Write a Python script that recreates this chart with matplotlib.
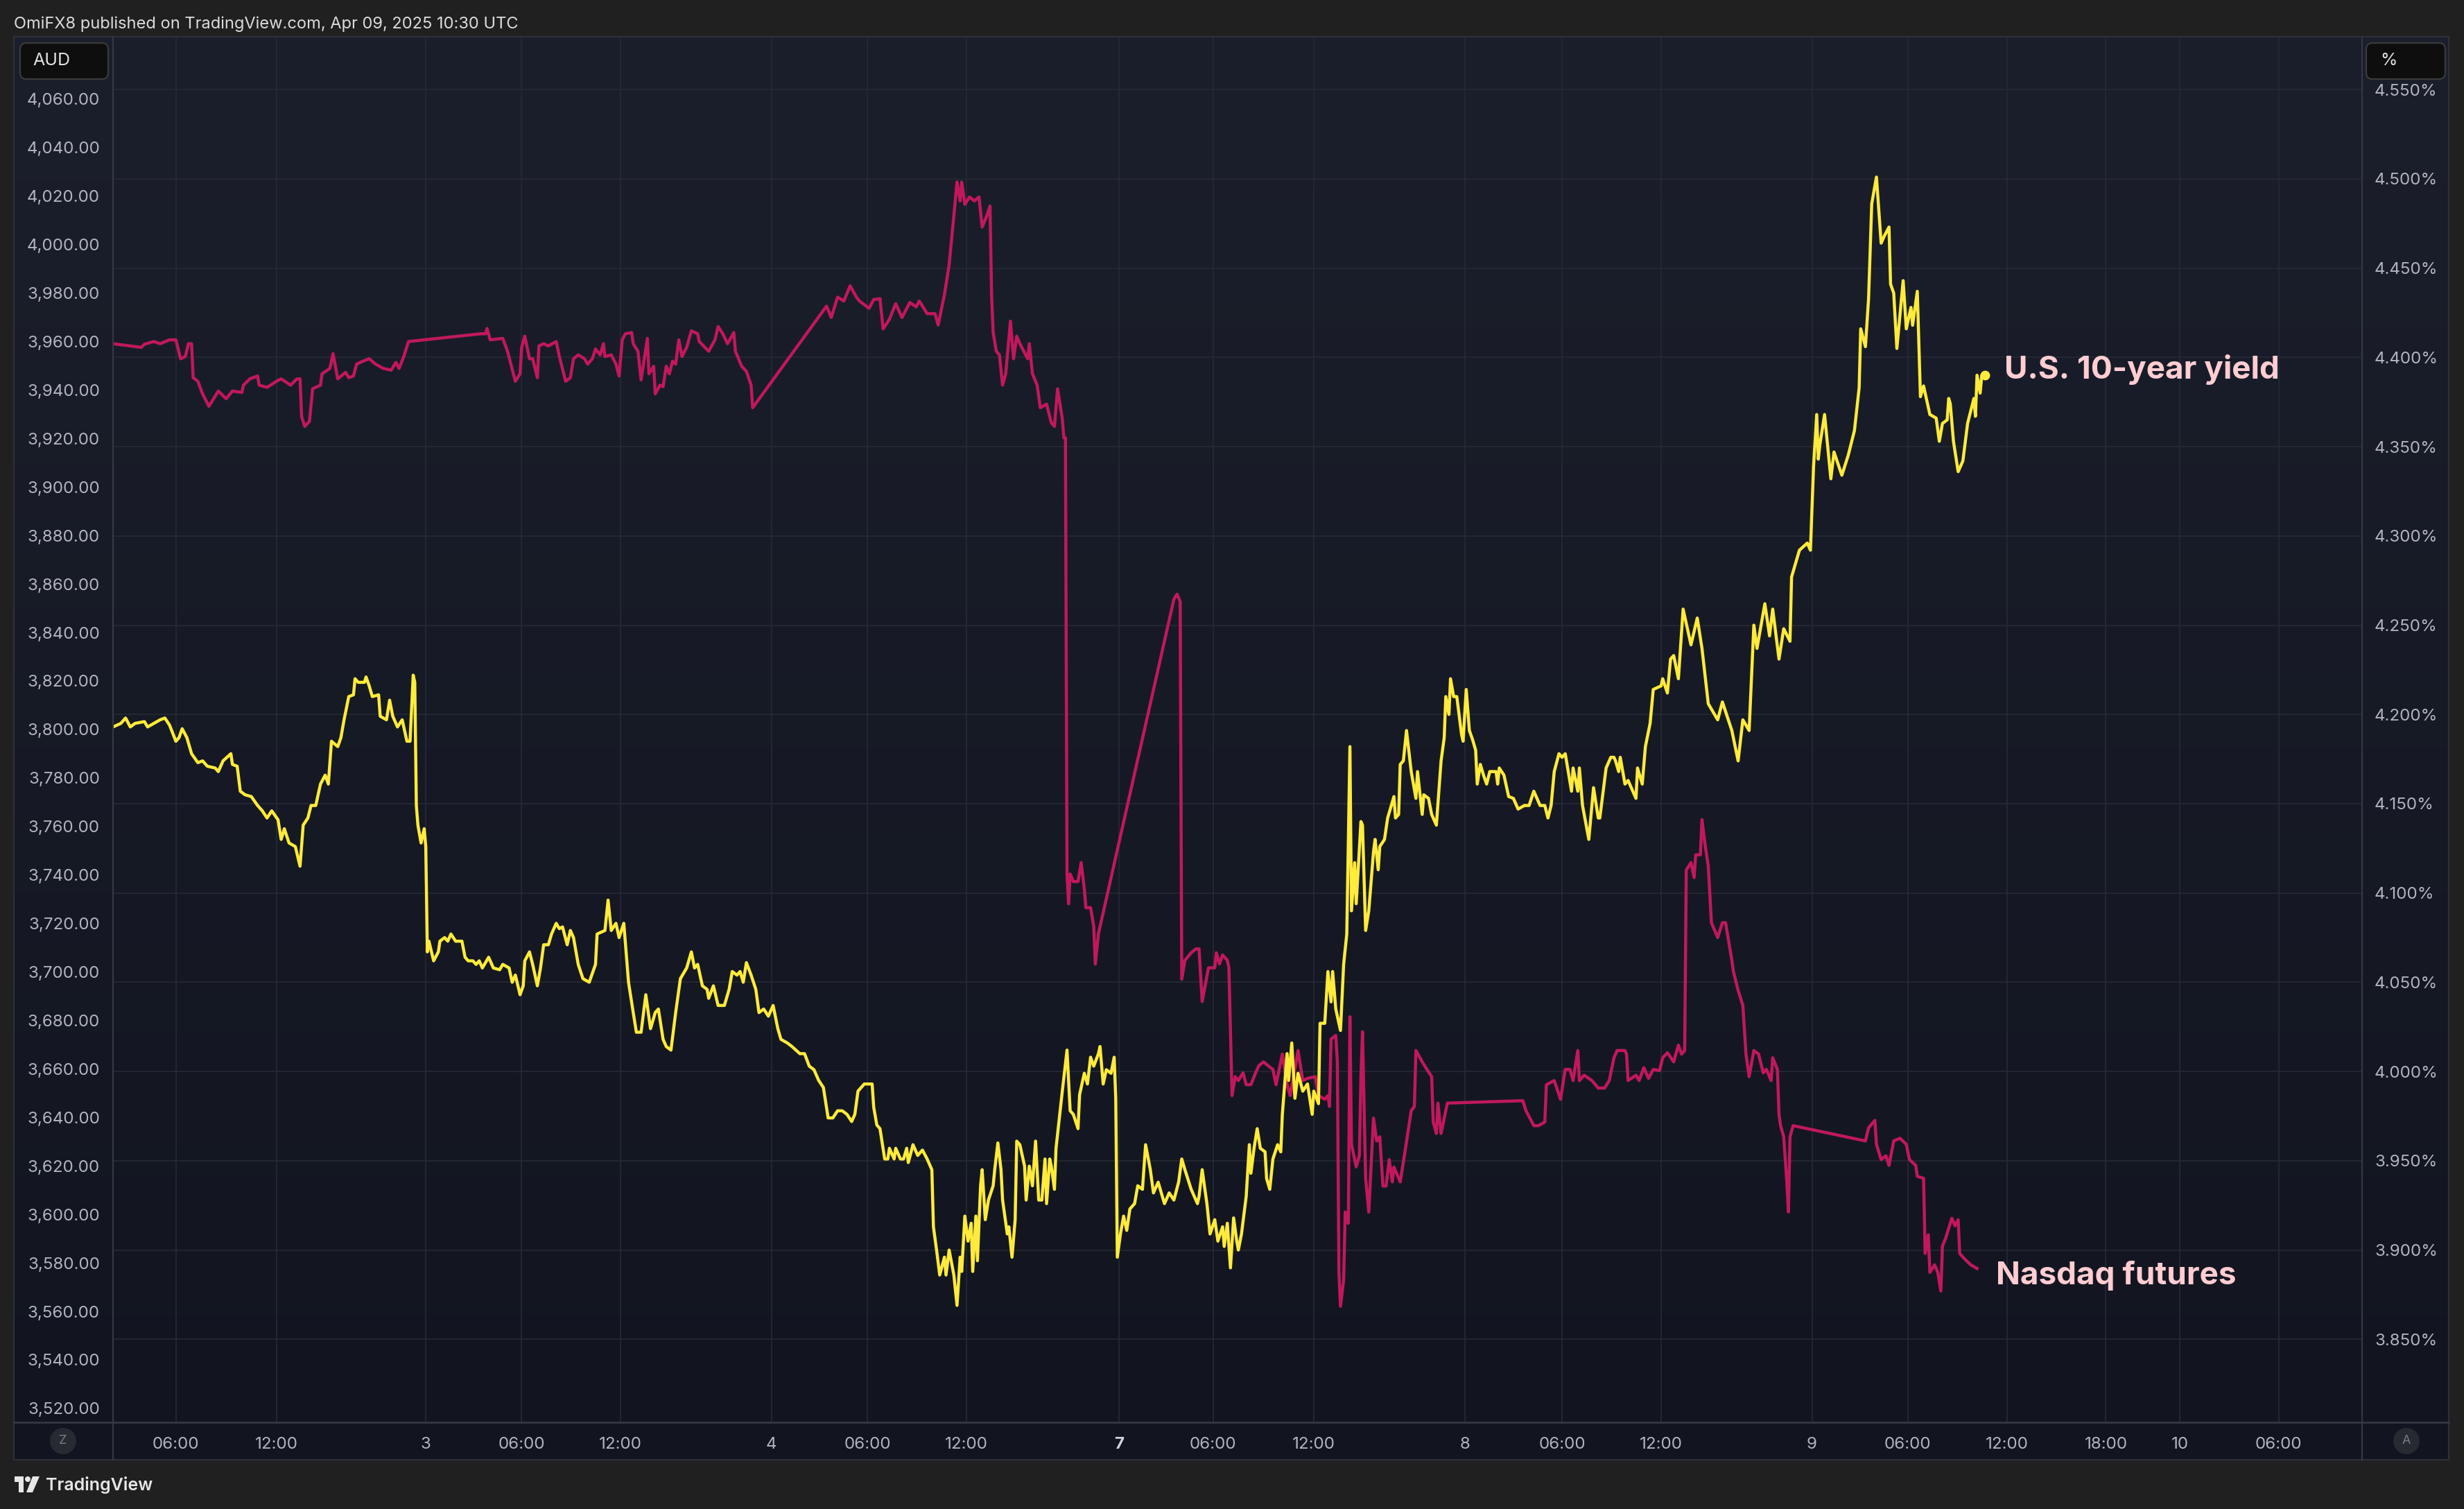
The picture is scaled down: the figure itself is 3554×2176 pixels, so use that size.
import numpy as np
import matplotlib.pyplot as plt
from matplotlib.colors import LinearSegmentedColormap
from matplotlib.patches import FancyBboxPatch, Circle, Rectangle, Polygon
from matplotlib.lines import Line2D
from matplotlib.transforms import IdentityTransform

# x = bar index on the TradingView time scale (session time, gaps removed)
time_tick_bars = [40, 104, 199, 260, 323, 419, 480, 543, 640, 700,
                  764, 860, 922, 985, 1081, 1142, 1205, 1268, 1315, 1378]
time_tick_labels = ["06:00", "12:00", "3", "06:00", "12:00", "4", "06:00", "12:00", "7", "06:00",
                    "12:00", "8", "06:00", "12:00", "9", "06:00", "12:00", "18:00", "10", "06:00"]

nasdaq_ticks = [3520, 3540, 3560, 3580, 3600, 3620, 3640, 3660, 3680, 3700, 3720, 3740, 3760, 3780,
                3800, 3820, 3840, 3860, 3880, 3900, 3920, 3940, 3960, 3980, 4000, 4020, 4040, 4060]
yield_ticks = [3.85, 3.90, 3.95, 4.00, 4.05, 4.10, 4.15, 4.20, 4.25, 4.30, 4.35, 4.40, 4.45, 4.50, 4.55]

# U.S. 10-year yield, %
yield_bar = [
    0, 5, 8, 11, 14, 20, 22, 26, 30, 33,
    36, 40, 42, 44, 47, 50, 54, 57, 60, 65,
    67, 70, 75, 76, 79, 81, 84, 88, 92, 95,
    98, 101, 105, 107, 109, 112, 116, 119, 121, 124,
    126, 129, 132, 135, 137, 139, 143, 145, 147, 150,
    153, 154, 156, 160, 161, 163, 165, 169, 170, 174,
    176, 178, 181, 184, 187, 189, 191, 192, 193, 194,
    196, 198, 199, 200, 201, 204, 207, 208, 211, 213,
    215, 218, 222, 224, 226, 229, 231, 233, 235, 239,
    242, 246, 248, 252, 254, 256, 259, 261, 262, 265,
    267, 270, 272, 274, 277, 279, 282, 284, 286, 289,
    291, 293, 296, 299, 303, 307, 308, 313, 315, 317,
    320, 322, 325, 328, 331, 333, 336, 339, 342, 345,
    347, 350, 352, 355, 358, 361, 365, 368, 370, 372,
    375, 378, 379, 382, 385, 389, 392, 394, 397, 399,
    401, 403, 406, 409, 411, 414, 417, 420, 423, 425,
    429, 432, 437, 440, 443, 446, 449, 452, 455, 458,
    461, 464, 467, 470, 472, 474, 478, 483, 484, 486,
    488, 491, 493, 494, 497, 498, 501, 503, 505, 506,
    509, 512, 515, 518, 521, 522, 524, 526, 529, 530,
    532, 535, 537, 539, 540, 542, 544, 546, 547, 549,
    550, 552, 553, 555, 557, 560, 561, 563, 565, 566,
    569, 570, 572, 574, 575, 577, 580, 581, 583, 585,
    587, 589, 591, 593, 594, 596, 597, 599, 600, 604,
    607, 609, 611, 614, 615, 618, 620, 622, 624, 627,
    628, 630, 632, 635, 637, 638, 639, 641, 643, 645,
    647, 650, 652, 655, 657, 660, 662, 665, 667, 669,
    672, 675, 678, 680, 682, 686, 690, 691, 693, 696,
    698, 701, 703, 706, 707, 709, 711, 713, 715, 716,
    718, 721, 723, 724, 726, 728, 730, 733, 734, 736,
    738, 741, 743, 744, 747, 748, 750, 752, 754, 757,
    760, 763, 764, 767, 768, 771, 773, 775, 776, 778,
    781, 783, 785, 787, 788, 790, 791, 794, 795, 797,
    799, 802, 803, 805, 806, 809, 811, 815, 816, 818,
    819, 821, 823, 826, 829, 830, 833, 834, 837, 839,
    842, 845, 847, 848, 850, 851, 853, 855, 858, 859,
    861, 863, 865, 867, 868, 870, 872, 874, 876, 880,
    881, 882, 885, 888, 891, 894, 898, 901, 904, 908,
    911, 913, 915, 917, 920, 922, 924, 928, 929, 932,
    933, 935, 939, 942, 945, 946, 950, 953, 955, 956,
    958, 959, 962, 964, 967, 969, 970, 973, 975, 978,
    980, 985, 986, 989, 991, 993, 996, 999, 1004, 1008,
    1011, 1015, 1021, 1024, 1030, 1034, 1037, 1041, 1044, 1046,
    1051, 1054, 1056, 1060, 1063, 1067, 1068, 1073, 1078, 1080,
    1082, 1084, 1085, 1086, 1089, 1093, 1095, 1100, 1104, 1108,
    1111, 1112, 1115, 1117, 1119, 1122, 1125, 1127, 1130, 1131,
    1133, 1135, 1139, 1141, 1144, 1145, 1148, 1150, 1152, 1156,
    1160, 1162, 1164, 1167, 1168, 1169, 1171, 1174, 1177, 1180,
    1184, 1185, 1186, 1188, 1189, 1191]
yield_pct = [
    4.193, 4.195, 4.198, 4.193, 4.195, 4.196, 4.193, 4.195, 4.197, 4.198,
    4.194, 4.185, 4.187, 4.192, 4.187, 4.178, 4.173, 4.174, 4.171, 4.170,
    4.168, 4.174, 4.178, 4.172, 4.171, 4.157, 4.155, 4.154, 4.149, 4.146,
    4.142, 4.146, 4.141, 4.130, 4.136, 4.128, 4.126, 4.115, 4.138, 4.142,
    4.149, 4.149, 4.161, 4.166, 4.161, 4.185, 4.182, 4.187, 4.197, 4.210,
    4.211, 4.220, 4.218, 4.218, 4.221, 4.216, 4.210, 4.211, 4.199, 4.197,
    4.208, 4.199, 4.193, 4.197, 4.185, 4.185, 4.222, 4.218, 4.149, 4.138,
    4.128, 4.136, 4.126, 4.067, 4.073, 4.062, 4.067, 4.073, 4.075, 4.073,
    4.077, 4.073, 4.073, 4.064, 4.062, 4.062, 4.060, 4.062, 4.058, 4.064,
    4.058, 4.057, 4.060, 4.058, 4.050, 4.054, 4.043, 4.048, 4.062, 4.067,
    4.060, 4.048, 4.058, 4.071, 4.071, 4.077, 4.083, 4.080, 4.081, 4.071,
    4.079, 4.075, 4.060, 4.052, 4.050, 4.060, 4.077, 4.079, 4.096, 4.079,
    4.083, 4.075, 4.083, 4.050, 4.033, 4.022, 4.022, 4.043, 4.024, 4.033,
    4.035, 4.018, 4.014, 4.012, 4.033, 4.052, 4.058, 4.067, 4.058, 4.060,
    4.048, 4.046, 4.041, 4.048, 4.037, 4.037, 4.046, 4.056, 4.054, 4.056,
    4.050, 4.061, 4.054, 4.046, 4.033, 4.035, 4.031, 4.037, 4.024, 4.018,
    4.016, 4.014, 4.010, 4.010, 4.003, 4.001, 3.995, 3.991, 3.974, 3.974,
    3.978, 3.978, 3.976, 3.972, 3.976, 3.989, 3.993, 3.993, 3.980, 3.970,
    3.968, 3.951, 3.951, 3.957, 3.951, 3.957, 3.951, 3.951, 3.957, 3.949,
    3.959, 3.953, 3.956, 3.951, 3.945, 3.913, 3.900, 3.886, 3.896, 3.886,
    3.900, 3.886, 3.869, 3.896, 3.888, 3.919, 3.905, 3.915, 3.888, 3.919,
    3.894, 3.936, 3.945, 3.917, 3.928, 3.936, 3.945, 3.960, 3.945, 3.928,
    3.909, 3.913, 3.896, 3.917, 3.961, 3.959, 3.947, 3.928, 3.947, 3.936,
    3.961, 3.928, 3.928, 3.951, 3.926, 3.951, 3.947, 3.934, 3.957, 3.989,
    4.012, 3.978, 3.976, 3.968, 3.987, 3.999, 3.993, 4.008, 4.003, 4.010,
    4.014, 3.993, 4.001, 3.999, 4.008, 3.985, 3.896, 3.909, 3.919, 3.911,
    3.923, 3.926, 3.936, 3.934, 3.959, 3.945, 3.932, 3.938, 3.932, 3.926,
    3.932, 3.928, 3.938, 3.951, 3.945, 3.934, 3.926, 3.930, 3.945, 3.926,
    3.909, 3.917, 3.905, 3.913, 3.902, 3.915, 3.890, 3.918, 3.905, 3.900,
    3.909, 3.930, 3.959, 3.943, 3.957, 3.968, 3.957, 3.955, 3.940, 3.934,
    3.951, 3.959, 3.955, 3.976, 4.010, 3.995, 4.016, 3.985, 3.999, 3.989,
    3.993, 3.976, 3.989, 3.982, 4.027, 4.027, 4.056, 4.039, 4.056, 4.035,
    4.023, 4.060, 4.077, 4.182, 4.090, 4.117, 4.094, 4.140, 4.138, 4.079,
    4.090, 4.123, 4.130, 4.113, 4.126, 4.130, 4.142, 4.154, 4.142, 4.144,
    4.172, 4.174, 4.191, 4.168, 4.153, 4.168, 4.144, 4.155, 4.153, 4.144,
    4.138, 4.174, 4.187, 4.210, 4.200, 4.220, 4.210, 4.210, 4.189, 4.185,
    4.214, 4.191, 4.186, 4.180, 4.161, 4.172, 4.166, 4.161, 4.168, 4.168,
    4.161, 4.170, 4.166, 4.154, 4.153, 4.147, 4.149, 4.149, 4.157, 4.149,
    4.149, 4.142, 4.149, 4.168, 4.178, 4.176, 4.178, 4.157, 4.170, 4.157,
    4.170, 4.149, 4.130, 4.159, 4.142, 4.142, 4.170, 4.176, 4.176, 4.174,
    4.168, 4.176, 4.161, 4.163, 4.157, 4.153, 4.170, 4.161, 4.182, 4.195,
    4.214, 4.216, 4.220, 4.212, 4.231, 4.233, 4.220, 4.259, 4.239, 4.254,
    4.237, 4.206, 4.197, 4.207, 4.191, 4.174, 4.197, 4.191, 4.250, 4.237,
    4.262, 4.244, 4.259, 4.231, 4.248, 4.241, 4.277, 4.292, 4.296, 4.292,
    4.339, 4.368, 4.343, 4.351, 4.368, 4.332, 4.347, 4.334, 4.345, 4.359,
    4.383, 4.416, 4.406, 4.433, 4.486, 4.501, 4.464, 4.468, 4.473, 4.441,
    4.436, 4.405, 4.443, 4.416, 4.428, 4.418, 4.437, 4.378, 4.384, 4.368,
    4.366, 4.353, 4.363, 4.365, 4.377, 4.374, 4.353, 4.336, 4.342, 4.363,
    4.377, 4.367, 4.390, 4.380, 4.390, 4.390]

# Nasdaq futures, AUD
nasdaq_bar = [
    0, 18, 20, 26, 30, 36, 40, 43, 46, 48,
    50, 51, 54, 57, 61, 64, 67, 72, 76, 82,
    83, 87, 92, 93, 98, 104, 107, 113, 117, 119,
    120, 122, 125, 127, 132, 133, 138, 140, 143, 148,
    150, 153, 155, 159, 163, 167, 172, 177, 180, 182,
    185, 188, 234, 237, 238, 240, 248, 251, 256, 259,
    260, 262, 265, 267, 270, 271, 274, 277, 282, 284,
    288, 291, 293, 296, 300, 302, 305, 307, 310, 312,
    313, 317, 320, 322, 324, 326, 330, 331, 334, 336,
    340, 341, 344, 345, 348, 350, 352, 354, 356, 358,
    360, 362, 365, 368, 372, 373, 379, 383, 385, 388,
    391, 395, 396, 400, 403, 406, 407, 454, 457, 461,
    465, 469, 473, 475, 481, 484, 488, 490, 494, 498,
    502, 507, 511, 513, 518, 523, 525, 529, 532, 535,
    537, 539, 540, 542, 545, 548, 551, 553, 556, 558,
    559, 560, 562, 564, 566, 568, 571, 573, 575, 577,
    582, 583, 585, 588, 590, 594, 597, 599, 601, 604,
    605, 606, 607, 608, 609, 611, 614, 616, 618, 619,
    622, 624, 625, 627, 675, 677, 679, 680, 682, 686,
    689, 691, 693, 697, 701, 702, 704, 706, 709, 710,
    712, 714, 716, 719, 721, 724, 727, 729, 732, 735,
    738, 740, 744, 747, 749, 754, 757, 760, 765, 767,
    771, 773, 774, 775, 778, 779, 780, 781, 783, 784,
    786, 787, 788, 791, 793, 794, 795, 797, 799, 802,
    804, 806, 808, 810, 812, 814, 815, 819, 822, 826,
    828, 829, 833, 836, 839, 840, 842, 843, 845, 849,
    897, 899, 904, 907, 911, 912, 917, 921, 924, 927,
    929, 932, 933, 936, 941, 945, 949, 952, 955, 957,
    962, 963, 964, 969, 971, 974, 977, 980, 984, 986,
    989, 993, 996, 998, 1000, 1001, 1004, 1006, 1007, 1010,
    1011, 1013, 1015, 1017, 1021, 1024, 1026, 1030, 1031, 1034,
    1037, 1039, 1041, 1044, 1047, 1050, 1052, 1055, 1056, 1059,
    1060, 1061, 1063, 1065, 1066, 1067, 1069, 1115, 1117, 1121,
    1122, 1125, 1128, 1130, 1133, 1137, 1141, 1143, 1147, 1148,
    1152, 1153, 1155, 1156, 1159, 1161, 1163, 1164, 1166, 1170,
    1172, 1174, 1175, 1178, 1182, 1186]
nasdaq_aud = [
    3959.1, 3957.6, 3958.9, 3960.0, 3959.1, 3960.7, 3960.7, 3952.9, 3953.8, 3959.1,
    3959.1, 3945.1, 3943.6, 3938.4, 3933.3, 3936.4, 3939.6, 3936.4, 3939.6, 3939.0,
    3942.0, 3944.6, 3945.8, 3942.0, 3941.1, 3943.6, 3944.6, 3942.0, 3944.6, 3944.6,
    3929.1, 3925.0, 3927.1, 3940.5, 3942.0, 3946.7, 3948.9, 3955.0, 3944.6, 3947.3,
    3945.1, 3945.8, 3950.7, 3951.9, 3952.9, 3950.7, 3948.9, 3948.2, 3951.4, 3948.9,
    3953.8, 3960.0, 3963.2, 3963.2, 3965.4, 3960.7, 3961.3, 3956.0, 3943.6, 3946.7,
    3957.6, 3962.2, 3952.9, 3952.9, 3945.1, 3958.2, 3959.1, 3958.2, 3960.0, 3953.8,
    3943.6, 3945.1, 3952.9, 3954.5, 3952.9, 3950.7, 3952.9, 3956.9, 3954.5, 3959.1,
    3953.8, 3954.5, 3950.7, 3945.8, 3960.7, 3963.2, 3963.7, 3959.1, 3956.0, 3944.2,
    3961.3, 3946.7, 3949.8, 3938.4, 3942.0, 3941.4, 3949.8, 3946.7, 3951.9, 3950.7,
    3960.7, 3953.8, 3957.6, 3964.4, 3963.2, 3960.0, 3956.0, 3960.7, 3966.2, 3963.2,
    3959.1, 3963.7, 3956.0, 3949.8, 3947.7, 3942.0, 3932.7, 3974.6, 3969.9, 3978.3,
    3976.7, 3983.0, 3978.3, 3976.7, 3973.7, 3977.3, 3977.7, 3965.2, 3969.2, 3975.6,
    3969.9, 3976.1, 3974.3, 3976.7, 3971.5, 3971.5, 3966.8, 3979.3, 3991.7, 4011.9,
    4025.8, 4018.0, 4025.8, 4016.6, 4019.6, 4018.0, 4019.6, 4007.2, 4011.9, 4015.9,
    3979.3, 3963.7, 3956.0, 3954.5, 3942.0, 3946.7, 3968.4, 3952.9, 3962.2, 3959.1,
    3952.9, 3959.1, 3946.7, 3942.0, 3932.7, 3934.2, 3926.5, 3925.0, 3940.5, 3928.1,
    3920.3, 3920.3, 3740.4, 3728.1, 3740.4, 3737.3, 3737.3, 3745.1, 3734.3, 3726.5,
    3726.5, 3718.8, 3703.3, 3715.8, 3853.7, 3855.8, 3852.8, 3697.0, 3704.8, 3707.9,
    3709.5, 3709.5, 3687.8, 3701.7, 3701.7, 3707.9, 3703.3, 3707.0, 3704.8, 3701.7,
    3649.0, 3656.8, 3655.2, 3658.4, 3653.5, 3653.5, 3658.4, 3661.3, 3662.9, 3661.3,
    3659.8, 3653.5, 3666.1, 3653.5, 3649.0, 3667.6, 3655.2, 3656.1, 3656.8, 3649.0,
    3647.5, 3649.0, 3644.5, 3672.3, 3673.8, 3662.9, 3576.1, 3562.1, 3573.0, 3601.0,
    3596.3, 3681.5, 3628.9, 3619.6, 3624.2, 3656.8, 3675.3, 3614.9, 3601.0, 3639.7,
    3630.3, 3632.0, 3611.7, 3611.7, 3622.6, 3613.4, 3619.5, 3613.4, 3625.7, 3642.8,
    3644.5, 3667.6, 3662.9, 3659.8, 3656.8, 3638.1, 3633.4, 3645.9, 3633.4, 3645.9,
    3646.9, 3642.8, 3636.6, 3636.6, 3638.1, 3653.5, 3655.2, 3647.5, 3659.8, 3659.8,
    3655.2, 3667.6, 3655.2, 3657.4, 3655.2, 3652.1, 3652.1, 3655.2, 3664.6, 3667.6,
    3667.6, 3666.1, 3655.2, 3657.4, 3655.2, 3660.5, 3656.1, 3659.8, 3659.3, 3664.6,
    3666.7, 3662.9, 3669.8, 3666.1, 3667.6, 3742.0, 3745.1, 3738.9, 3748.3, 3748.3,
    3762.8, 3752.3, 3743.7, 3720.3, 3714.2, 3720.3, 3720.3, 3704.8, 3700.2, 3692.4,
    3686.2, 3666.1, 3656.8, 3667.6, 3666.1, 3658.4, 3659.8, 3655.2, 3664.6, 3659.8,
    3641.2, 3636.6, 3632.0, 3613.4, 3601.0, 3632.0, 3636.6, 3630.3, 3635.7, 3638.8,
    3628.9, 3622.6, 3624.2, 3620.2, 3630.3, 3631.4, 3628.9, 3622.6, 3620.2, 3615.7,
    3614.9, 3583.9, 3591.6, 3576.1, 3579.2, 3576.1, 3568.4, 3587.0, 3590.1, 3598.4,
    3595.3, 3597.8, 3583.9, 3581.7, 3579.2, 3577.7]

W, H, DPI = 3554, 2176, 200
plt.rcParams['font.family'] = ['Inter', 'DejaVu Sans']

BG = '#202020'
GRID = '#262a35'
SEP = '#343843'
TXT = '#b2b5be'
PINK = '#c2185b'
YELLOW = '#ffeb3b'


def fx(px):
    return px / W


def fy(py):
    return 1 - py / H


def pix(px, py):
    # pixel position measured from top-left -> display coords
    return (px, H - py)


fig = plt.figure(figsize=(W / DPI, H / DPI), dpi=DPI, facecolor=BG)

# panel background with soft vertical gradient
panel = fig.add_axes([fx(20), fy(2105), fx(3532) - fx(20), fy(53) - fy(2105)], zorder=0)
panel.imshow(np.linspace(0, 1, 256).reshape(-1, 1), aspect='auto', extent=[0, 1, 0, 1],
             cmap=LinearSegmentedColormap.from_list('bg', ['#1b1f2b', '#121520']))
panel.set_xlim(0, 1)
panel.set_ylim(0, 1)
panel.axis('off')

plot_rect = [fx(163), fy(2051), fx(3407) - fx(163), fy(53) - fy(2051)]
xlim = (0, 1431)
nasdaq_lim = (3514.25, 4085.7)
yield_lim = (3.8035, 4.5796)

# grid follows the time ticks and the % scale
grid = fig.add_axes(plot_rect, zorder=1)
grid.set_xlim(*xlim)
grid.set_ylim(*yield_lim)
for b in time_tick_bars:
    grid.axvline(b, color=GRID, lw=0.6)
for v in yield_ticks:
    grid.axhline(v, color=GRID, lw=0.6)
grid.axis('off')

ax = fig.add_axes(plot_rect, zorder=2)
ax.patch.set_visible(False)
ax.plot(nasdaq_bar, nasdaq_aud, color=PINK, lw=1.6, solid_joinstyle='round')
ax.set_xlim(*xlim)
ax.set_ylim(*nasdaq_lim)
ax.set_yticks(nasdaq_ticks)
ax.set_yticklabels([f"{v:,.2f}" for v in nasdaq_ticks])
ax.set_xticks(time_tick_bars)
ax.set_xticklabels(time_tick_labels)
ax.tick_params(axis='both', length=0, labelsize=8.7, labelcolor=TXT)
ax.tick_params(axis='y', pad=6.8)
ax.tick_params(axis='x', pad=7.5)
ax.get_xticklabels()[8].set_fontweight('bold')
ax.get_xticklabels()[8].set_color('#d1d4dc')
ax.text(1198, 3571.2, "Nasdaq futures", color='#ffcdd2', fontsize=16.5, fontweight='bold',
        ha='left', va='baseline')

ax2 = ax.twinx()
ax2.set_zorder(3)
ax2.patch.set_visible(False)
ax2.plot(yield_bar, yield_pct, color=YELLOW, lw=1.6, solid_joinstyle='round')
ax2.plot(yield_bar[-1:], yield_pct[-1:], 'o', color=YELLOW, ms=4)
ax2.set_ylim(*yield_lim)
ax2.set_yticks(yield_ticks)
ax2.set_yticklabels([f"{v:.3f}%" for v in yield_ticks])
ax2.tick_params(axis='y', length=0, labelsize=8.7, labelcolor=TXT, pad=6.5)
ax2.text(1203.5, 4.388, "U.S. 10-year yield", color='#ffcdd2', fontsize=16.5, fontweight='bold',
         ha='left', va='baseline')

for a in (ax, ax2):
    for s in a.spines.values():
        s.set_visible(False)

ident = IdentityTransform()

# panel frame and separators
fig.add_artist(Rectangle(pix(20, 2105), 3512, 2052, transform=ident, fill=False,
                         ec='#2c303a', lw=0.8, zorder=20))
fig.add_artist(Line2D([20, 3532], [H - 2051, H - 2051], transform=ident, color=SEP, lw=1.0, zorder=20))
fig.add_artist(Line2D([163, 163], [H - 53, H - 2105], transform=ident, color=SEP, lw=0.8, zorder=20))
fig.add_artist(Line2D([3407, 3407], [H - 53, H - 2105], transform=ident, color=SEP, lw=0.8, zorder=20))

# currency / unit boxes
for x0, x1, label, tx in ((29, 156, "AUD", 47), (3413, 3527, "%", 3433)):
    fig.add_artist(FancyBboxPatch(pix(x0, 114), x1 - x0, 52, transform=ident,
                                  boxstyle='round,pad=0,rounding_size=9',
                                  fc='#0e0e0e', ec='#3a3a3a', lw=0.8, zorder=25))
    fig.text(fx(tx), fy(88), label, color='#e0e0e0', fontsize=9, ha='left', va='center', zorder=26)

# small round buttons in time-axis row
for cx, letter in ((91, "Z"), (3471, "A")):
    fig.add_artist(Circle(pix(cx, 2078), 19, transform=ident, fc='#272a31', ec='none', zorder=25))
    fig.text(fx(cx), fy(2078), letter, color='#787b86', fontsize=6.5, ha='center', va='center', zorder=26)

# header
fig.text(fx(20), fy(35), "OmiFX8 published on TradingView.com, Apr 09, 2025 10:30 UTC",
         color='#dcdcdc', fontsize=8.5, ha='left', va='center')

# footer logo
logo = '#e6e6e6'
fig.add_artist(Rectangle(pix(21, 2137), 13, 8, transform=ident, fc=logo, ec='none'))
fig.add_artist(Rectangle(pix(27, 2152), 7, 23, transform=ident, fc=logo, ec='none'))
fig.add_artist(Circle(pix(40, 2133), 4, transform=ident, fc=logo, ec='none'))
fig.add_artist(Polygon([pix(47, 2129), pix(57, 2129), pix(47, 2152), pix(38, 2152)],
                       closed=True, transform=ident, fc=logo, ec='none'))
fig.text(fx(66), fy(2141), "TradingView", color=logo, fontsize=9, fontweight='semibold',
         ha='left', va='center')

fig.savefig('out.png', dpi=DPI, facecolor=BG)
